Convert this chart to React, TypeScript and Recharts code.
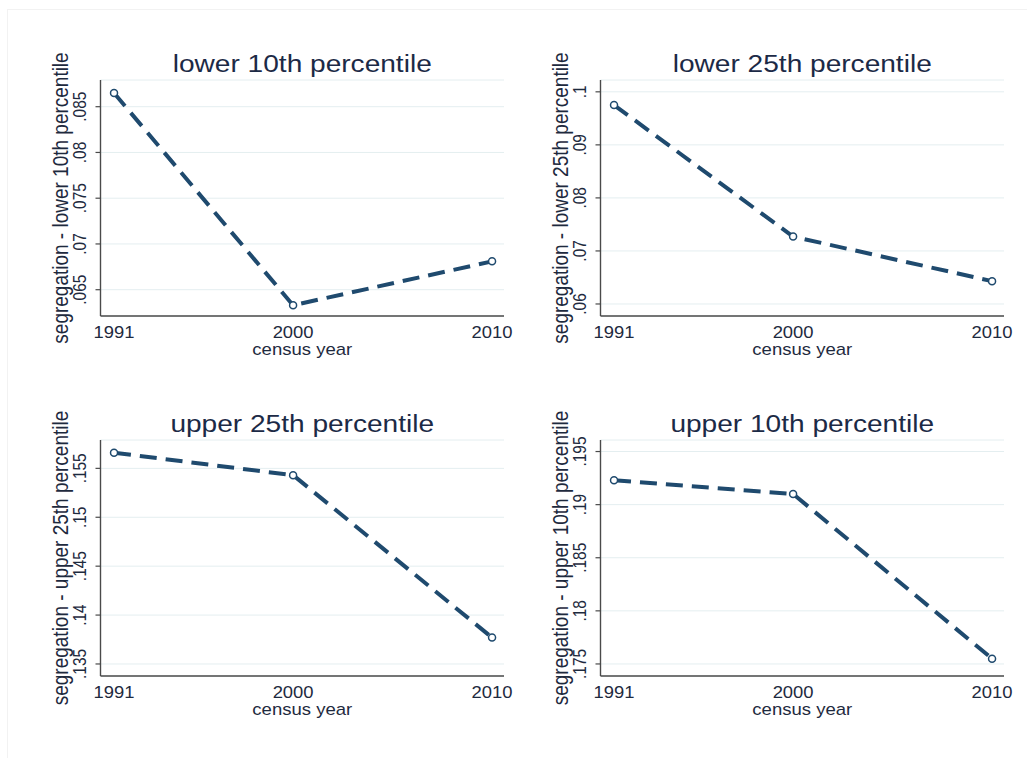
import React from 'react';
import { LineChart, Line, XAxis, YAxis, CartesianGrid } from 'recharts';

const years = [1991, 2000, 2010];
const xTicks = [1991, 2000, 2010];

const lower10 = [0.0865, 0.0633, 0.0681];
const lower25 = [0.0975, 0.0727, 0.0643];
const upper25 = [0.1566, 0.1543, 0.1377];
const upper10 = [0.1923, 0.191, 0.1755];

const lower10Ticks = [0.065, 0.07, 0.075, 0.08, 0.085];
const lower25Ticks = [0.06, 0.07, 0.08, 0.09, 0.1];
const upper25Ticks = [0.135, 0.14, 0.145, 0.15, 0.155];
const upper10Ticks = [0.175, 0.18, 0.185, 0.19, 0.195];

const lower10Domain = [0.062126, 0.087918];
const lower25Domain = [0.057733, 0.10223];
const upper25Domain = [0.13377, 0.1579];
const upper10Domain = [0.173866, 0.196086];

const xDomain = [1990.32, 2010.6];

const FONT = '"Liberation Sans", Arial, sans-serif';
const LINE = '#1f4a6e';
const TEXT = '#1e2a3e';
const SX = 1.18;

const fmt = (v: number) => String(+v.toFixed(3)).replace(/^0/, '');

const W = 520;
const H = 360;
const PL = 100.5;
const PT = 80;
const PW = 403.5;
const PH = 236;
const XH = 40;

function YTick(props: any) {
  const { y, payload } = props;
  return (
    <text
      transform={`translate(80,${y}) scale(${SX},1) rotate(-90)`}
      textAnchor="middle"
      dominantBaseline="central"
      fontFamily={FONT}
      fontSize={15.4}
      fill={TEXT}
    >
      {fmt(payload.value)}
    </text>
  );
}

function XTick(props: any) {
  const { x, payload } = props;
  return (
    <text
      transform={`translate(${x},${PT + PH + 22}) scale(${SX},1)`}
      textAnchor="middle"
      fontFamily={FONT}
      fontSize={15.6}
      fill={TEXT}
    >
      {payload.value}
    </text>
  );
}

function Panel({ left, top, title, ylabel, values, ticks, domain }: any) {
  const data = years.map((yr, i) => ({ year: yr, v: values[i] }));
  const cx = PL + PW / 2;
  return (
    <div style={{ position: 'absolute', left, top, width: W, height: H }}>
      <LineChart
        width={W}
        height={H}
        data={data}
        margin={{ top: PT, right: W - PL - PW, bottom: H - PT - PH - XH, left: 0 }}
      >
        <CartesianGrid horizontal vertical={false} stroke="#e4eef0" strokeWidth={1} />
        <XAxis
          dataKey="year"
          type="number"
          domain={xDomain}
          ticks={xTicks}
          allowDataOverflow
          height={XH}
          tickLine={false}
          axisLine={{ stroke: '#4a4a4a', strokeWidth: 1.4 }}
          tick={<XTick />}
          interval={0}
        />
        <YAxis
          type="number"
          domain={domain}
          ticks={ticks}
          allowDataOverflow
          width={PL}
          tickSize={5}
          tickLine={{ stroke: '#4a4a4a', strokeWidth: 1.2 }}
          axisLine={{ stroke: '#4a4a4a', strokeWidth: 1.4 }}
          tick={<YTick />}
          interval={0}
        />
        <Line
          type="linear"
          dataKey="v"
          stroke={LINE}
          strokeWidth={4}
          strokeDasharray="17 9"
          isAnimationActive={false}
          dot={{ r: 3.5, stroke: LINE, strokeWidth: 1.5, fill: '#ffffff', strokeDasharray: '' }}
          activeDot={false}
        />
      </LineChart>
      <svg
        width={W}
        height={H}
        style={{ position: 'absolute', left: 0, top: 0, pointerEvents: 'none' }}
      >
        <text
          transform={`translate(${cx},${PT - 8.5}) scale(${SX},1)`}
          textAnchor="middle"
          fontFamily={FONT}
          fontSize={23.8}
          fill="#1c2a46"
        >
          {title}
        </text>
        <text
          transform={`translate(${cx},${PT + PH + 39}) scale(${SX},1)`}
          textAnchor="middle"
          fontFamily={FONT}
          fontSize={15.7}
          fill={TEXT}
        >
          census year
        </text>
        <text
          transform={`translate(60,${PT + PH / 2}) scale(${SX},1) rotate(-90)`}
          textAnchor="middle"
          dominantBaseline="central"
          fontFamily={FONT}
          fontSize={19}
          fill={TEXT}
        >
          {ylabel}
        </text>
      </svg>
    </div>
  );
}

export default function App() {
  return (
    <div
      style={{
        position: 'absolute',
        left: 0,
        top: 0,
        width: 1027,
        height: 758,
        background: '#ffffff',
        overflow: 'hidden',
      }}
    >
      <div
        style={{
          position: 'absolute',
          left: 7,
          top: 9,
          width: 1030,
          height: 760,
          borderTop: '1px solid #f2f2f2',
          borderLeft: '1px solid #f2f2f2',
        }}
      />
      <Panel
        left={0}
        top={0}
        title="lower 10th percentile"
        ylabel="segregation - lower 10th percentile"
        values={lower10}
        ticks={lower10Ticks}
        domain={lower10Domain}
      />
      <Panel
        left={500}
        top={0}
        title="lower 25th percentile"
        ylabel="segregation - lower 25th percentile"
        values={lower25}
        ticks={lower25Ticks}
        domain={lower25Domain}
      />
      <Panel
        left={0}
        top={360}
        title="upper 25th percentile"
        ylabel="segregation - upper 25th percentile"
        values={upper25}
        ticks={upper25Ticks}
        domain={upper25Domain}
      />
      <Panel
        left={500}
        top={360}
        title="upper 10th percentile"
        ylabel="segregation - upper 10th percentile"
        values={upper10}
        ticks={upper10Ticks}
        domain={upper10Domain}
      />
    </div>
  );
}
